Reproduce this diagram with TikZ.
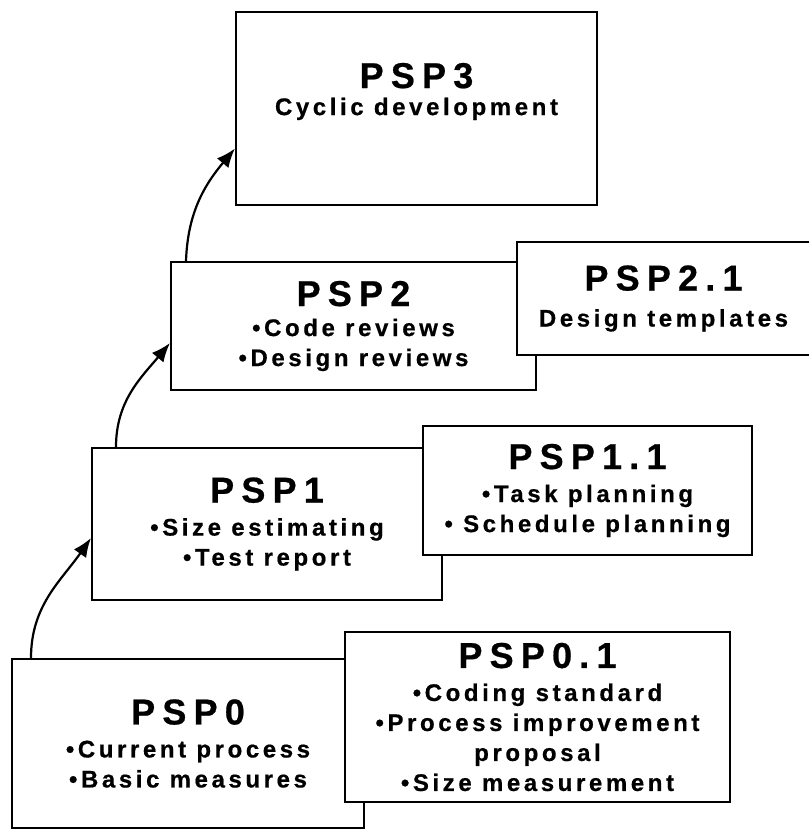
\documentclass[tikz,border=0pt]{standalone}
\usepackage{fontspec}
\setmainfont{Liberation Sans}
\newfontfamily\titlefont{Liberation Sans}[LetterSpace=20,BoldFeatures={FakeBold=0.6}]
\newfontfamily\bodyfont{Liberation Sans}[LetterSpace=15,BoldFeatures={FakeBold=0.6}]
\usetikzlibrary{arrows.meta,positioning}
\tikzset{
    %Define style for boxes
    stage/.style={
        rectangle,
        draw=black, line width=2pt,
        fill=white,
        align=center,
        inner sep=0pt,
        font=\bodyfont\bfseries\fontsize{24}{30}\selectfont,
    },
    climb/.style={
        line width=2.2pt,
        -{Latex[length=19pt,width=15pt]},
    },
}
\newcommand{\psptitle}[1]{{\titlefont\bfseries\fontsize{36}{38}\selectfont #1}}

\begin{document}
\begin{tikzpicture}[x=1pt,y=-1pt]
		\useasboundingbox (0,0) rectangle (809,831);
		\clip (0,0) rectangle (809,831);

		\node[stage,minimum width=352pt,minimum height=169pt] (PSP0) at (188,743.5)
			{\psptitle{PSP0}\\[3pt] •Current process\\ •Basic measures};
		\node[stage,minimum width=385pt,minimum height=170pt] (PSP01) at (537.5,717)
			{\psptitle{PSP0.1}\\[3pt] •Coding standard\\ •Process improvement\\ proposal\\ •Size measurement};
		\node[stage,minimum width=350pt,minimum height=152pt] (PSP1) at (267,524)
			{\psptitle{PSP1}\\[3pt] •Size estimating\\ •Test report};
		\node[stage,minimum width=329pt,minimum height=129pt] (PSP11) at (587.5,490.5)
			{\psptitle{PSP1.1}\\[3pt] •Task planning\\ • Schedule planning};
		\node[stage,minimum width=365pt,minimum height=128pt] (PSP2) at (353.5,326)
			{\psptitle{PSP2}\\ •Code reviews\\ •Design reviews};
		\node[stage,minimum width=293pt,minimum height=113pt] (PSP21) at (663.5,298.5)
			{\psptitle{PSP2.1}\\[6pt] Design templates};
		\node[stage,minimum width=361pt,minimum height=193pt] (PSP3) at (416.5,108.5)
			{\psptitle{PSP3}\\[-3pt] Cyclic development\\ \strut};

		\draw[climb] ([xshift=20pt]PSP0.north west) to[out=90,in=235] ([yshift=-14pt]PSP1.west);
		\draw[climb] ([xshift=25pt]PSP1.north west) to[out=90,in=230] ([yshift=-17pt]PSP2.west);
		\draw[climb] ([xshift=16pt]PSP2.north west) to[out=88,in=230] ([yshift=-40pt]PSP3.west);
	\end{tikzpicture}
\end{document}
